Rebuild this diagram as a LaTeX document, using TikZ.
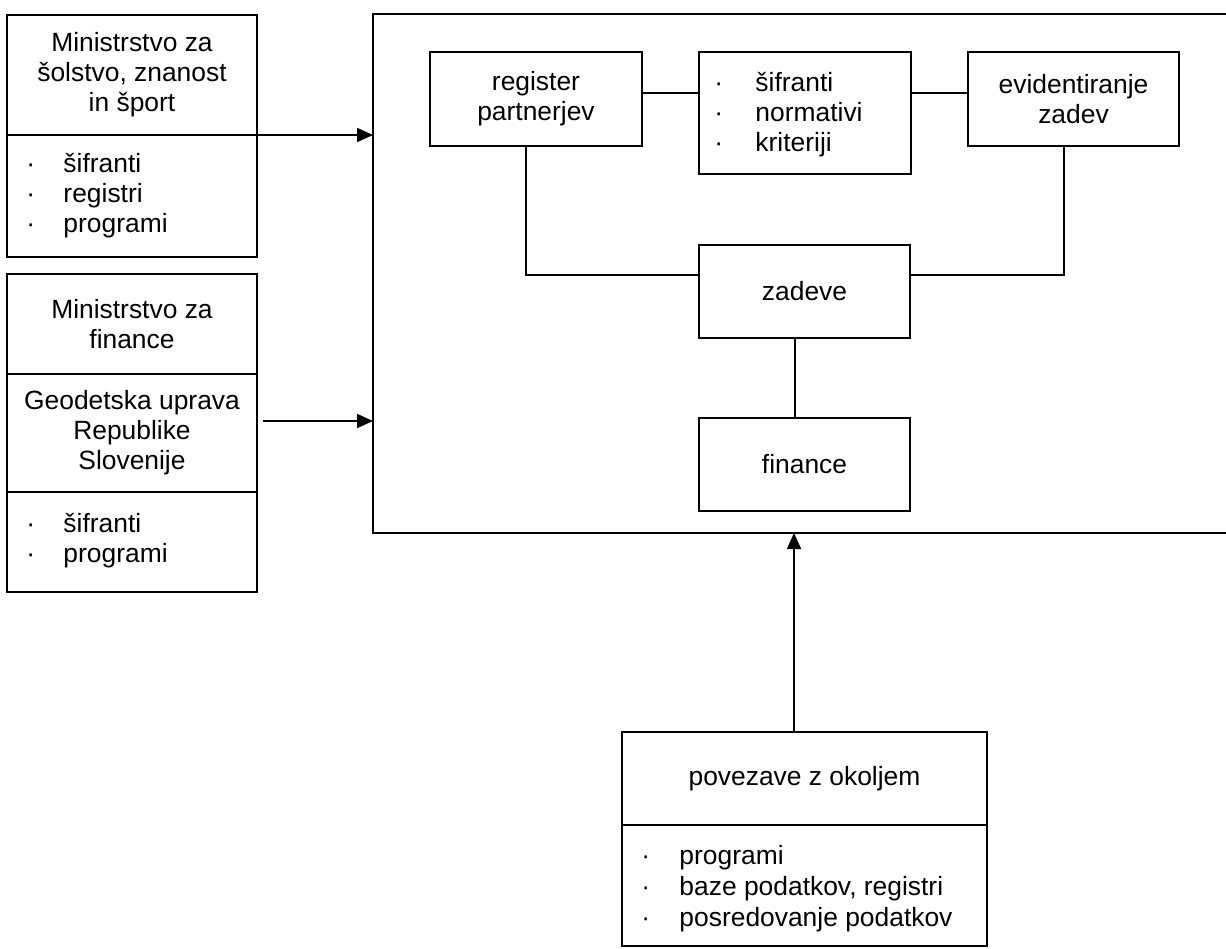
\documentclass[tikz,border=0pt]{standalone}
\usepackage{fontspec}
\setmainfont{Liberation Sans}
\usetikzlibrary{arrows.meta}
% bullet line: a middle dot in a box of given width, then the text
\newcommand{\dotitem}[2]{\makebox[#1][l]{·}#2}
\begin{document}
\begin{tikzpicture}[x=1pt,y=-1pt,
  every node/.style={font=\fontsize{26.4}{30}\selectfont},
  frame/.style={draw, line width=1.8pt, inner sep=0pt, outer sep=0pt,
                anchor=north west, align=center},
  conn/.style={line width=1.8pt},
  arr/.style={line width=1.8pt, -{Triangle[length=16pt,width=14pt]}},
  item/.style={anchor=base west, inner sep=0pt, outer sep=0pt}]
\useasboundingbox (0,0) rectangle (1226,949);
\clip (0,0) rectangle (1226,949);

% ---- outer system frame (its right side runs past the page edge)
\node[frame, line width=2.2pt, minimum width=867, minimum height=519] (sys) at (373,14) {};

% ---- ministry of education
\node[frame, minimum width=250, minimum height=120] (msz) at (7,15)
  {Ministrstvo za\\šolstvo, znanost\\in šport};
\node[frame, minimum width=250, minimum height=122] (mszl) at (7,135) {};
\node[item] (msz1) at (26.3,173) {\dotitem{37.2pt}{šifranti}};
\node[item] (msz2) at (26.3,203) {\dotitem{37.2pt}{registri}};
\node[item] (msz3) at (26.3,233) {\dotitem{37.2pt}{programi}};

% ---- ministry of finance / surveying authority
\node[frame, minimum width=250, minimum height=100] (mf) at (7,274)
  {Ministrstvo za\\finance};
\node[frame, minimum width=250, minimum height=118] (gu) at (7,374)
  {Geodetska uprava\\Republike\\Slovenije};
\node[frame, minimum width=250, minimum height=100] (gul) at (7,492) {};
\node[item] (gu1) at (26.3,532) {\dotitem{37.2pt}{šifranti}};
\node[item] (gu2) at (26.3,562) {\dotitem{37.2pt}{programi}};

% ---- inner modules
\node[frame, minimum width=212, minimum height=94] (reg) at (430,52)
  {register\\partnerjev};
\node[frame, minimum width=212, minimum height=122] (sif) at (699,52) {};
\node[item] (sif1) at (714.3,92) {\dotitem{41.2pt}{šifranti}};
\node[item] (sif2) at (714.3,122) {\dotitem{41.2pt}{normativi}};
\node[item] (sif3) at (714.3,152) {\dotitem{41.2pt}{kriteriji}};
\node[frame, minimum width=211, minimum height=94] (evid) at (968,52)
  {evidentiranje\\zadev};
\node[frame, minimum width=211, minimum height=93] (zad) at (699,245) {zadeve};
\node[frame, minimum width=211, minimum height=93] (fin) at (699,418) {finance};

% ---- environment links
\node[frame, minimum width=365, minimum height=93] (pov) at (622,732)
  {povezave z okoljem};
\node[frame, minimum width=365, minimum height=121] (povl) at (622,825) {};
\node[item] (pov1) at (641.3,864) {\dotitem{38.2pt}{programi}};
\node[item] (pov2) at (641.3,895) {\dotitem{38.2pt}{baze podatkov, registri}};
\node[item] (pov3) at (641.3,926) {\dotitem{38.2pt}{posredovanje podatkov}};

% ---- connections between modules
\draw[conn] ([yshift=6pt]reg.east) -- ([yshift=6pt]reg.east -| sif.west);
\draw[conn] ([yshift=6pt]evid.west -| sif.east) -- ([yshift=6pt]evid.west);
\draw[conn] ([xshift=-10pt]reg.south) |- ([yshift=16.5pt]zad.west);
\draw[conn] ([xshift=-9.5pt]evid.south) |- ([yshift=16.5pt]zad.east);
\draw[conn] ([xshift=-9.5pt]zad.south) -- ([xshift=-9.5pt]fin.north);

% ---- inputs into the system
\draw[arr] (msz.south east) -- (msz.south east -| sys.west);
\draw[arr] ([xshift=6pt,yshift=12pt]gu.east) -- ([yshift=12pt]gu.east -| sys.west);
\draw[arr] ([xshift=-10.5pt]pov.north) -- ([xshift=-10.5pt]pov.north |- sys.south);
\end{tikzpicture}
\end{document}
